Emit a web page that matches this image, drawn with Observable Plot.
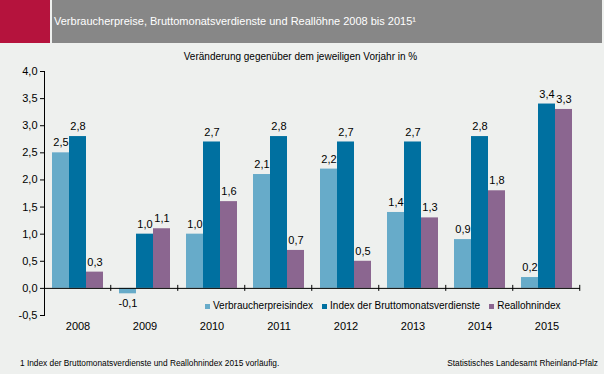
<!DOCTYPE html>
<html><head><meta charset="utf-8">
<script src="https://cdn.jsdelivr.net/npm/d3@7"></script>
<script src="https://cdn.jsdelivr.net/npm/@observablehq/plot@0.6"></script>
<style>
body{margin:0;background:#eef0ee;font-family:"Liberation Sans",Arial,sans-serif;}
#wrap{position:relative;width:604px;height:374px;background:#eef0ee;overflow:hidden}
#red{position:absolute;left:0;top:0;width:50px;height:43px;background:#b5133d}
#bar{position:absolute;left:52px;top:0;width:550px;height:43px;background:#878787;color:#fff;font-size:11px}
#bar span{position:absolute;left:2px;top:15px;white-space:nowrap;line-height:13px}
#sub{position:absolute;left:0;width:601px;top:51px;text-align:center;font-size:10px;line-height:12px;color:#000}
#chart{position:absolute;left:0;top:62px}
#legend{position:absolute;left:205px;top:300px;font-size:10px;line-height:12px;display:flex;white-space:nowrap}
#legend .it{display:flex;align-items:center;margin-right:9px}
#legend .sw{width:5px;height:5px;margin-right:3px}
.foot{position:absolute;top:358px;font-size:8.3px;line-height:10px;color:#000;white-space:nowrap}
</style></head><body>
<div id="wrap">
 <div id="red"></div>
 <div id="bar"><span>Verbraucherpreise, Bruttomonatsverdienste und Reallöhne 2008 bis 2015¹</span></div>
 <div id="sub">Veränderung gegenüber dem jeweiligen Vorjahr in %</div>
 <div id="chart"></div>
 <div id="legend"></div>
 <div class="foot" style="left:20px">1 Index der Bruttomonatsverdienste und Reallohnindex 2015 vorläufig.</div>
 <div class="foot" style="right:6px">Statistisches Landesamt Rheinland-Pfalz</div>
</div>
<script>
const years = ["2008","2009","2010","2011","2012","2013","2014","2015"];
const series = ["Verbraucherpreisindex","Index der Bruttomonatsverdienste","Reallohnindex"];
const verbraucher = [2.5,-0.1,1.0,2.1,2.2,1.4,0.9,0.2];
const brutto = [2.8,1.0,2.7,2.8,2.7,2.7,2.8,3.4];
const reallohn = [0.3,1.1,1.6,0.7,0.5,1.3,1.8,3.3];
const yTicks = [-0.5,0,0.5,1,1.5,2,2.5,3,3.5,4];
const colors = ["#67abc9","#0070a0","#8b6690"];

const seriesValues = [verbraucher, brutto, reallohn];
const data = years.flatMap((y,i)=>series.map((s,j)=>({year:y,series:s,value:seriesValues[j][i]})));
const fmt = v => v.toFixed(1).replace(".", ",");

const plot = Plot.plot({
  width:604, height:280,
  marginTop:9, marginLeft:42, marginRight:22, marginBottom:27,
  style:{background:"transparent", fontFamily:"Liberation Sans, Arial, sans-serif", fontSize:"11px", color:"#000"},
  fx:{domain:years, padding:0, axis:"bottom", tickSize:0, tickPadding:7, label:null},
  x:{domain:series, paddingInner:0, paddingOuter:0.375, axis:null},
  y:{domain:[-0.5,4], ticks:yTicks, tickFormat:fmt, tickSize:4, tickPadding:3, line:true, label:null},
  color:{domain:series, range:colors},
  marks:[
    Plot.barY(data,{fx:"year",x:"series",y:"value",fill:"series"}),
    Plot.ruleY([0],{stroke:"#000"}),
    Plot.ruleX(years,{fx:d=>d, x:()=>series[2], dx:15.75, y1:()=>0, y2:()=>0, insetTop:-3, insetBottom:-3, stroke:"#000"}),
    Plot.text(data.filter(d=>d.value>=0),{fx:"year",x:"series",y:"value",text:d=>fmt(d.value),dy:-10,fill:"#000"}),
    Plot.text(data.filter(d=>d.value<0),{fx:"year",x:"series",y:"value",text:d=>fmt(d.value),dy:10,fill:"#000"})
  ]
});
document.getElementById("chart").appendChild(plot);

const leg = document.getElementById("legend");
series.forEach((s,i)=>{
  const it=document.createElement("div");it.className="it";
  const sw=document.createElement("div");sw.className="sw";sw.style.background=colors[i];
  const t=document.createElement("span");t.textContent=s;
  it.appendChild(sw);it.appendChild(t);leg.appendChild(it);
});
</script>
</body></html>
